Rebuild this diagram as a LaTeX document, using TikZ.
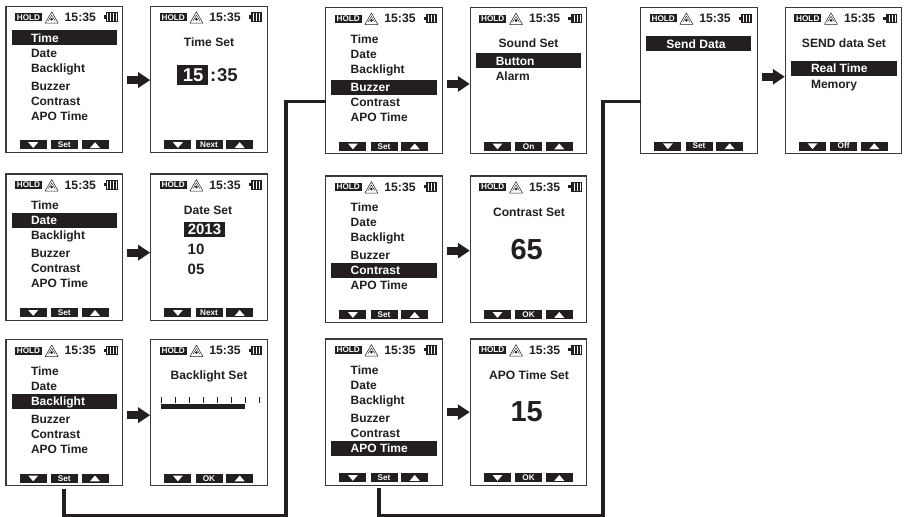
\documentclass[tikz,border=0pt]{standalone}
\usepackage{fontspec}
\setmainfont{Liberation Sans}
\usetikzlibrary{arrows.meta,calc}
\definecolor{ink}{HTML}{231F20}
\definecolor{frame}{HTML}{3A3A3A}
\newcommand{\fsz}[1]{\fontsize{#1}{#1}\selectfont\bfseries}
\tikzset{
  every node/.style={inner sep=0pt,outer sep=0pt,text=ink},
  screenbox/.style={draw=frame,line width=1.2pt,fill=white,minimum width=116.5pt,minimum height=146.3pt,anchor=north west},
  holdtag/.style={fill=ink,text=white,font=\fsz{8.2},minimum width=27pt,minimum height=8pt},
  clock/.style={font=\fsz{12.2}},
  softkey/.style={fill=ink,text=white,font=\fsz{8.2},minimum width=27pt,minimum height=9pt},
  menutext/.style={font=\fsz{12},anchor=base west},
  titletext/.style={font=\fsz{12.1},anchor=base},
  hlbar/.style={fill=ink,minimum width=105.5pt,minimum height=15pt,anchor=west},
  bigarrow/.style={draw=ink,line width=8pt,-{Triangle[length=12pt,width=15pt]},shorten <=4.5pt,shorten >=0.5pt},
  elbow/.style={draw=ink,line width=3.8pt,miter limit=10},
}
% #1 name, #2 x, #3 y, #4 softkey label
\newcommand{\dvscreen}[4]{
  \node[screenbox] (#1) at (#2,#3) {};
  \begin{scope}[shift={(#2,#3)}]
    \node[holdtag] (#1-hold) at (22.5,11) {HOLD};
    \draw[ink,line width=0.5pt,line join=round] (39.2,17) -- (45.7,5.6) -- (52.2,17) -- cycle;
    \fill[ink] (45.7,13) circle (1.5pt);
    \draw[ink,line width=0.4pt] (42.3,14.6) -- (45.7,9) -- (49.1,14.6);
    \node[clock] (#1-clock) at (74.3,11) {15:35};
    \draw[ink,line width=0.5pt] (100.6,6.5) rectangle (111,15);
    \fill[ink] (98,9.2) rectangle (100.6,12.3);
    \foreach \bx in {102,103.5,105,106.5,108,109.5}{
      \draw[ink,line width=0.7pt] (\bx,7) -- (\bx,14.5);
    }
    \node[softkey] (#1-down) at (27,138.7) {};
    \node[softkey] (#1-key) at (58.3,138.7) {#4};
    \node[softkey] (#1-up) at (89,138.7) {};
    \fill[white] (22.2,136) -- (32.2,136) -- (27.2,141.8) -- cycle;
    \fill[white] (84,141.8) -- (94,141.8) -- (89,136) -- cycle;
  \end{scope}
}
% #1 name, #2 x, #3 y, #4 highlighted row
\newcommand{\dvmenu}[4]{
  \begin{scope}[shift={(#2,#3)}]
    \foreach \i/\lab/\ry in {1/Time/31.5,2/Date/46.5,3/Backlight/61.5,4/Buzzer/79.5,5/Contrast/94.5,6/APO Time/109.5}{
      \ifnum\i=#4\relax
        \node[hlbar] (#1-bar) at (5.5,\ry) {};
        \node[menutext,text=white] (#1-m\i) at (25,\ry+4.3) {\lab};
      \else
        \node[menutext] (#1-m\i) at (25,\ry+4.3) {\lab};
      \fi
    }
  \end{scope}
}
\newcommand{\flowarrow}[3]{\draw[bigarrow] ($(#1.east)+(0,#3)$) -- ($(#2.west)+(0,#3)$);}
\begin{document}
\begin{tikzpicture}[x=1pt,y=-1pt]
\useasboundingbox (0,0) rectangle (906,517);
\coordinate (turnA) at (286,515.5);
\coordinate (turnB) at (286,101.5);
\coordinate (turnC) at (603,515.7);
\coordinate (turnD) at (603,101.5);
% column 1
\dvscreen{timeM}{6}{6.2}{Set}\dvmenu{timeM}{6}{6.2}{1}
\dvscreen{dateM}{6}{174}{Set}\dvmenu{dateM}{6}{174}{2}
\dvscreen{backM}{6}{339.5}{Set}\dvmenu{backM}{6}{339.5}{3}
% column 2
\dvscreen{timeS}{150.7}{6.2}{Next}
\node[titletext] (timeS-t) at (209,46.3) {Time Set};
\node[fill=ink,minimum width=31pt,minimum height=20pt] (timeS-box) at (192.5,75) {};
\node[text=white,font=\fsz{18.5}] (timeS-h) at (193.2,75) {15};
\node[font=\fsz{18.5},anchor=base west] (timeS-c) at (210,81.6) {:};
\node[font=\fsz{18.5},anchor=base west] (timeS-n) at (217.2,81.6) {35};
\dvscreen{dateS}{150.7}{174}{Next}
\node[titletext] (dateS-t) at (208,214.3) {Date Set};
\node[fill=ink,minimum width=41pt,minimum height=15pt] (dateS-box) at (204.5,229) {};
\node[text=white,font=\fsz{15}] (dateS-y) at (204.5,229) {2013};
\node[font=\fsz{15},anchor=west] (dateS-m) at (187.7,249) {10};
\node[font=\fsz{15},anchor=west] (dateS-d) at (187.7,269) {05};
\dvscreen{backS}{150.7}{339.5}{OK}
\node[titletext] (backS-t) at (209,379.3) {Backlight Set};
\foreach \k in {0,...,7}{\draw[ink,line width=0.9pt] (161+14*\k,397) -- (161+14*\k,403);}
\fill[ink] (161,404) rectangle (245,408.8);
% column 3
\dvscreen{buzzM}{325.7}{7.5}{Set}\dvmenu{buzzM}{325.7}{7.5}{4}
\dvscreen{contM}{325.7}{176}{Set}\dvmenu{contM}{325.7}{176}{5}
\dvscreen{apoM}{325.7}{339}{Set}\dvmenu{apoM}{325.7}{339}{6}
% column 4
\dvscreen{buzzS}{470.3}{7.5}{On}
\node[titletext] (buzzS-t) at (528.5,47.3) {Sound Set};
\node[hlbar] (buzzS-bar) at (475.8,60.7) {};
\node[menutext,text=white] (buzzS-a) at (495.8,65.3) {Button};
\node[menutext] (buzzS-b) at (495.8,80.3) {Alarm};
\dvscreen{contS}{470.3}{176}{OK}
\node[titletext] (contS-t) at (529,216.3) {Contrast Set};
\node[font=\fsz{29}] (contS-v) at (526.7,250) {65};
\dvscreen{apoS}{470.3}{339}{OK}
\node[titletext] (apoS-t) at (529,379.3) {APO Time Set};
\node[font=\fsz{29}] (apoS-v) at (526.7,412) {15};
% column 5
\dvscreen{sendM}{640.7}{7.3}{Set}
\node[hlbar] (sendM-bar) at (645.9,43.5) {};
\node[titletext,text=white] (sendM-t) at (696,48.3) {Send Data};
% column 6
\dvscreen{sendS}{785.3}{7.3}{Off}
\node[titletext] (sendS-t) at (844,47.6) {SEND data Set};
\node[hlbar] (sendS-bar) at (791,68.5) {};
\node[menutext,text=white] (sendS-a) at (811,72.8) {Real Time};
\node[menutext] (sendS-b) at (811,88.6) {Memory};
% block arrows
\flowarrow{timeM}{timeS}{0.7}
\flowarrow{dateM}{dateS}{5.5}
\flowarrow{backM}{backS}{2.5}
\flowarrow{buzzM}{buzzS}{3.3}
\flowarrow{contM}{contS}{1.5}
\flowarrow{apoM}{apoS}{0}
\flowarrow{sendM}{sendS}{-3.7}
% elbows
\draw[elbow,shorten <=3pt] (backM.south) |- (turnA) -- (turnB) -- (buzzM.west |- turnB);
\draw[elbow,shorten <=3pt] ($(apoM.south)+(-5,0)$) |- (turnC) -- (turnD) -- (sendM.west |- turnD);
\end{tikzpicture}
\end{document}
